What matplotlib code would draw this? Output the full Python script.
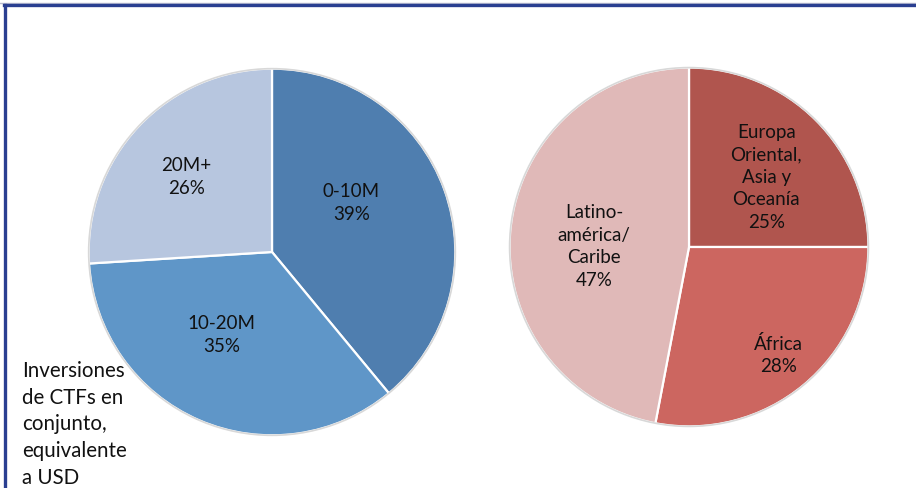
import numpy as np
import matplotlib
matplotlib.use("Agg")
import matplotlib.pyplot as plt
from matplotlib.lines import Line2D

# ----------------------- Data -----------------------
size_labels = ["0-10M", "10-20M", "20M+"]
size_shares = [39, 35, 26]
size_colors = ["#4F7EAF", "#5F96C8", "#B7C6DF"]

region_labels = ["Europa\nOriental,\nAsia y\nOceanía", "África", "Latino-\namérica/\nCaribe"]
region_shares = [25, 28, 47]
region_colors = ["#B0554E", "#CC6660", "#E0B9B8"]

note_text = "Inversiones\nde CTFs en\nconjunto,\nequivalente\na USD"

plt.rcParams['font.family'] = ['Lato', 'DejaVu Sans']

W, H = 916, 488
fig = plt.figure(figsize=(W / 100, H / 100), dpi=100)
fig.patch.set_facecolor("white")


def draw_pie(rect, values, labels, colors, label_pos):
    ax = fig.add_axes(rect)
    wedges, _ = ax.pie(values, colors=colors, startangle=90, counterclock=False,
                       radius=1.0,
                       wedgeprops=dict(edgecolor="white", linewidth=1.6))
    # soft grey rim like the original shadow
    ax.add_patch(plt.Circle((0, 0), 1.0, fill=False, edgecolor="#D8D8D8", linewidth=1.2))
    for w, lab, v, (rf, da) in zip(wedges, labels, values, label_pos):
        ang = np.deg2rad((w.theta1 + w.theta2) / 2 + da)
        ax.text(rf * np.cos(ang), rf * np.sin(ang), f"{lab}\n{v}%",
                ha="center", va="center", fontsize=13.5, color="#111111",
                linespacing=1.4)
    ax.set_xlim(-1.02, 1.02)
    ax.set_ylim(-1.02, 1.02)
    ax.set_aspect("equal")
    ax.axis("off")
    return ax


# left pie: center (272, 252) r 185 px
draw_pie([85 / W, (H - 439) / H, 374 / W, 374 / H],
         size_shares, size_labels, size_colors,
         [(0.51, 12), (0.53, -8), (0.62, 2)])

# right pie: center (689, 247) r 181 px
draw_pie([506 / W, (H - 430) / H, 366 / W, 366 / H],
         region_shares, region_labels, region_colors,
         [(0.58, -3), (0.78, 0), (0.53, 5)])

fig.text(22 / W, 1 - 361 / H, note_text, ha="left", va="top",
         fontsize=14.8, color="#111111", linespacing=1.42)

# frame lines (top and left)
fig.add_artist(Line2D([0, 1], [1 - 2.5 / H, 1 - 2.5 / H], color="#B8BCD0", linewidth=1.0))
fig.add_artist(Line2D([4 / W, 1], [1 - 5 / H, 1 - 5 / H], color="#2A3F91", linewidth=2.4))
fig.add_artist(Line2D([4.5 / W, 4.5 / W], [0, 1 - 5 / H], color="#2A3F91", linewidth=2.4))

fig.savefig("out.png", dpi=100, facecolor="white")
